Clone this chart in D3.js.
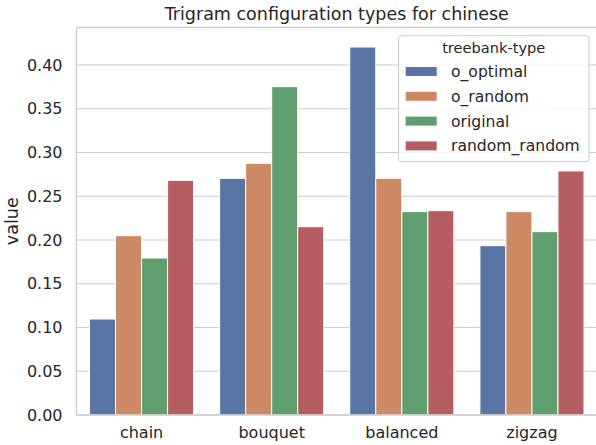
<!DOCTYPE html>
<html><head><meta charset="utf-8">
<script src="https://cdn.jsdelivr.net/npm/d3@7"></script>
<style>body{margin:0;background:#fff}svg{display:block}text{font-family:"DejaVu Sans",sans-serif;fill:#262626}</style>
</head><body><svg id="c" width="596" height="445"></svg>
<script>
const categories = ["chain","bouquet","balanced","zigzag"];
const seriesNames = ["o_optimal","o_random","original","random_random"];
const o_optimal = [0.1097,0.2705,0.4205,0.1935];
const o_random = [0.2049,0.2876,0.2705,0.2324];
const original = [0.1794,0.3752,0.2324,0.2095];
const random_random = [0.2682,0.2152,0.2335,0.2789];
const yTicks = [0,0.05,0.10,0.15,0.20,0.25,0.30,0.35,0.40];
const colors = ["#5975a4","#cc8963","#5f9e6e","#b55d60"];
const seriesValues = [o_optimal,o_random,original,random_random];

const svg = d3.select("#c");
const L=76.5, R=597, T=27.5, B=415;
const x = d3.scaleBand().domain(categories).range([L,R]).paddingInner(0).paddingOuter(0);
const bw = x.bandwidth();
const xi = d3.scaleBand().domain(seriesNames).range([0.1*bw,0.9*bw]).paddingInner(0).paddingOuter(0);
const y = d3.scaleLinear().domain([0,0.4428]).range([B,T]);

// grid
svg.append("g").selectAll("line").data(yTicks).join("line")
  .attr("x1",L).attr("x2",R).attr("y1",d=>y(d)).attr("y2",d=>y(d))
  .attr("stroke","#cccccc").attr("stroke-width",1.1);

// bars
const data=[];
categories.forEach((c,i)=>seriesNames.forEach((s,j)=>data.push({c,s,j,v:seriesValues[j][i]})));
svg.append("g").selectAll("rect").data(data).join("rect")
  .attr("x",d=>x(d.c)+xi(d.s)).attr("width",xi.bandwidth())
  .attr("y",d=>y(d.v)).attr("height",d=>B-y(d.v))
  .attr("fill",d=>colors[d.j]).attr("stroke","#ffffff").attr("stroke-width",1);

// spines
svg.append("line").attr("x1",L).attr("x2",L).attr("y1",T).attr("y2",B).attr("stroke","#cccccc").attr("stroke-width",1.4);
svg.append("line").attr("x1",L).attr("x2",R).attr("y1",B).attr("y2",B).attr("stroke","#cccccc").attr("stroke-width",1.4);
svg.append("line").attr("x1",L).attr("x2",R).attr("y1",T).attr("y2",T).attr("stroke","#cccccc").attr("stroke-width",1.4);

// y axis
const ya = d3.axisLeft(y).tickValues(yTicks).tickFormat(d3.format(".2f")).tickSize(0).tickPadding(14);
const gy = svg.append("g").attr("transform",`translate(${L},0)`).call(ya);
gy.select(".domain").remove();
gy.selectAll("text").attr("font-size",16).attr("font-family","DejaVu Sans").attr("fill","#262626");

// x axis
const xa = d3.axisBottom(x).tickSize(0).tickPadding(12);
const gx = svg.append("g").attr("transform",`translate(0,${B})`).call(xa);
gx.select(".domain").remove();
gx.selectAll("text").attr("font-size",16).attr("font-family","DejaVu Sans").attr("fill","#262626");

// labels
svg.append("text").attr("x",(L+R)/2).attr("y",19.5).attr("text-anchor","middle").attr("font-size",17.5).text("Trigram configuration types for chinese");
svg.append("text").attr("transform",`translate(17.5,${(T+B)/2}) rotate(-90)`).attr("text-anchor","middle").attr("font-size",17.5).text("value");

// legend
const lg = svg.append("g");
lg.append("rect").attr("x",398.5).attr("y",35.7).attr("width",190.5).attr("height",126).attr("rx",3)
  .attr("fill","#ffffff").attr("fill-opacity",0.8).attr("stroke","#cccccc").attr("stroke-width",1);
lg.append("text").attr("x",493.7).attr("y",52.5).attr("text-anchor","middle").attr("font-size",14.6).text("treebank-type");
seriesNames.forEach((s,j)=>{
  const cy = 71.5 + j*24.8;
  lg.append("rect").attr("x",405.7).attr("y",cy-4.5).attr("width",31).attr("height",9).attr("fill",colors[j]);
  lg.append("text").attr("x",451).attr("y",cy+5.5).attr("font-size",15.6).text(s);
});
</script></body></html>
